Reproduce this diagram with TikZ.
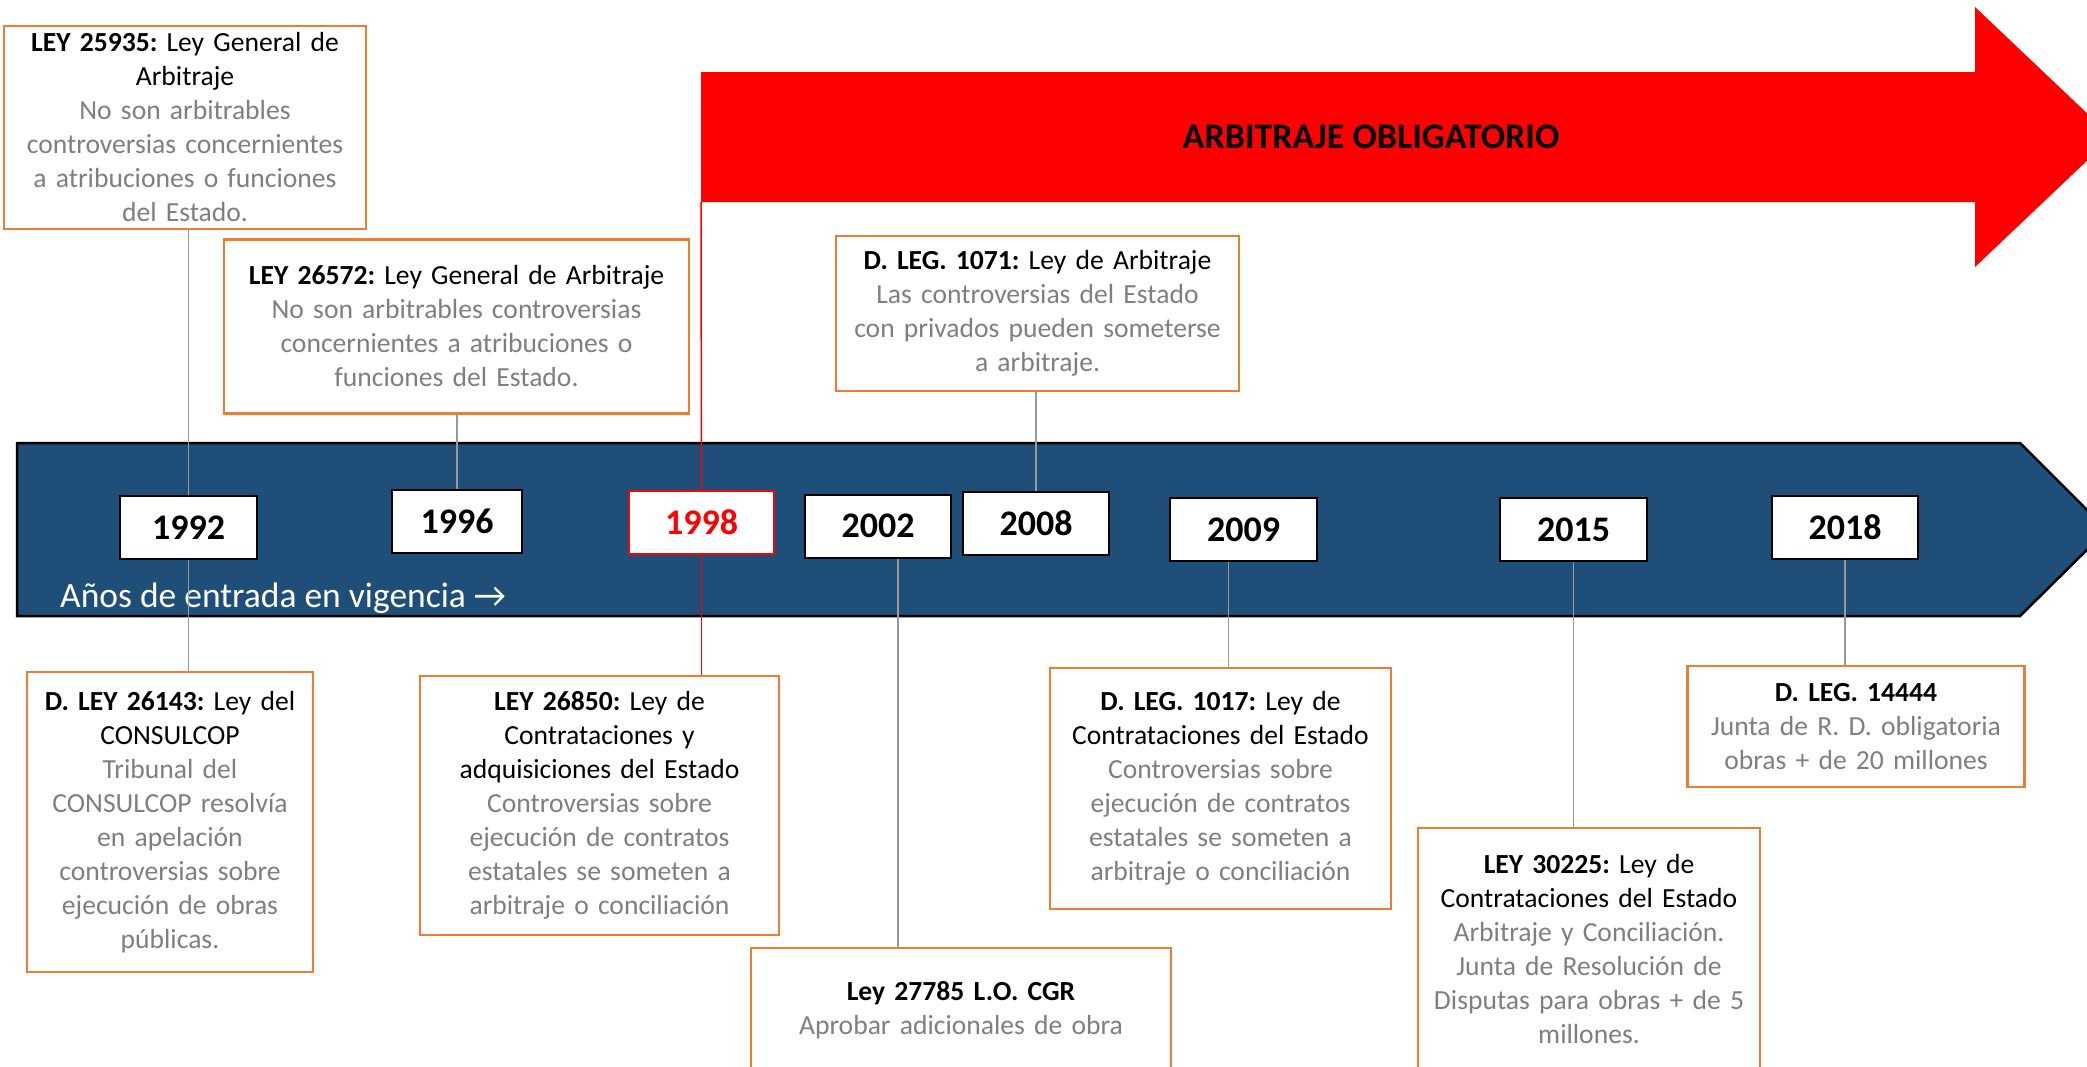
\documentclass[tikz,border=0pt]{standalone}
\usepackage{fontspec}
\setmainfont{Carlito}
\frenchspacing
\definecolor{bandblue}{HTML}{1F4E79}
\definecolor{boxorange}{HTML}{ED7D31}
\definecolor{notegray}{HTML}{7F7F7F}
\definecolor{linkgray}{HTML}{999999}
\newcommand{\lawnote}[1]{\textcolor{notegray}{#1}}

\tikzset{
  yearbox/.style={draw=black,line width=2pt,fill=white,inner sep=0pt,minimum width=143pt,minimum height=63pt,font=\fontsize{36}{42}\selectfont\bfseries},
  lawbox/.style={draw=boxorange,line width=2.5pt,fill=white,inner sep=0pt,align=center,font=\fontsize{27.6}{34}\selectfont},
  linkline/.style={draw=linkgray,line width=1.5pt},
}

\begin{document}
\begin{tikzpicture}[x=1pt,y=-1pt]
\useasboundingbox (0,0) rectangle (2087,1066);
\clip (0,0) rectangle (2087,1066);

\fill[red] (701,72) -- (1975,72) -- (1975,7) -- (2112,137) -- (1975,267) -- (1975,202) -- (701,202) -- cycle;
\coordinate (obligfoot) at (701,202);
\node[font=\fontsize{36}{42}\selectfont\bfseries] (oblig) at (1371,137) {ARBITRAJE OBLIGATORIO};

\filldraw[fill=bandblue,draw=black,line width=2.5pt] (17,443) -- (2020,443) -- (2107,530) -- (2020,616) -- (17,616) -- cycle;

\node[yearbox,minimum width=137pt] (y1992) at (188.5,527.5) {1992};
\node[yearbox,minimum width=130pt] (y1996) at (457,521.5) {1996};
\node[yearbox,draw=red,text=red,minimum width=145pt] (y1998) at (701.5,522) {1998};
\node[yearbox,minimum width=146pt] (y2002) at (878,526) {2002};
\node[yearbox,minimum width=146pt] (y2008) at (1036,523) {2008};
\node[yearbox,minimum width=147pt] (y2009) at (1243.5,529.5) {2009};
\node[yearbox,minimum width=147pt] (y2015) at (1573.5,529.5) {2015};
\node[yearbox,minimum width=146pt] (y2018) at (1845,527.5) {2018};

\node[text=white,font=\fontsize{35.5}{40}\selectfont,anchor=base west,inner sep=0pt] (vigencia) at (60,607) {Años de entrada en vigencia →};

\node[lawbox,minimum width=362pt,minimum height=203pt,text width=356pt] (ley25935) at (185,127.5)
  {\textbf{LEY 25935:} Ley General de\\ Arbitraje\\ \lawnote{No son arbitrables\\ controversias concernientes\\ a atribuciones o funciones\\ del Estado.}};
\node[lawbox,minimum width=465pt,minimum height=174pt,text width=459pt] (ley26572) at (456.5,326.5)
  {\textbf{LEY 26572:} Ley General de Arbitraje\\ \lawnote{No son arbitrables controversias\\ concernientes a atribuciones o\\ funciones del Estado.}};
\node[lawbox,minimum width=403pt,minimum height=155pt,text width=397pt] (leg1071) at (1037.5,313.5)
  {\textbf{D. LEG. 1071:} Ley de Arbitraje\\ \lawnote{Las controversias del Estado\\ con privados pueden someterse\\ a arbitraje.}};
\node[lawbox,minimum width=286pt,minimum height=300pt,text width=280pt] (ley26143) at (170,822)
  {\textbf{D. LEY 26143:} Ley del\\ CONSULCOP\\ \lawnote{Tribunal del\\ CONSULCOP resolvía\\ en apelación\\ controversias sobre\\ ejecución de obras\\ públicas.}};
\node[lawbox,minimum width=359pt,minimum height=259pt,text width=353pt] (ley26850) at (599.5,805.5)
  {\textbf{LEY 26850:} Ley de\\ Contrataciones y\\ adquisiciones del Estado\\ \lawnote{Controversias sobre\\ ejecución de contratos\\ estatales se someten a\\ arbitraje o conciliación}};
\node[lawbox,minimum width=420pt,minimum height=124pt,text width=414pt] (ley27785) at (961,1010)
  {\textbf{Ley 27785 L.O. CGR}\\ \lawnote{Aprobar adicionales de obra}};
\node[lawbox,minimum width=341pt,minimum height=241pt,text width=335pt] (leg1017) at (1220.5,788.5)
  {\textbf{D. LEG. 1017:} Ley de\\ Contrataciones del Estado\\ \lawnote{Controversias sobre\\ ejecución de contratos\\ estatales se someten a\\ arbitraje o conciliación}};
\node[lawbox,minimum width=342pt,minimum height=242pt,text width=336pt] (ley30225) at (1589,949)
  {\textbf{LEY 30225:} Ley de\\ Contrataciones del Estado\\ \lawnote{Arbitraje y Conciliación.\\ Junta de Resolución de\\ Disputas para obras + de 5\\ millones.}};
\node[lawbox,minimum width=337pt,minimum height=121pt,text width=331pt] (leg14444) at (1856,726.5)
  {\textbf{D. LEG. 14444}\\ \lawnote{Junta de R. D. obligatoria\\ obras + de 20 millones}};

\draw[linkline] (ley25935.south -| y1992) -- (y1992.north);
\draw[linkline] (y1992.south) -- (y1992.south |- ley26143.north);
\draw[linkline] (ley26572.south -| y1996) -- (y1996.north);
\draw[red,line width=1.5pt] (obligfoot) -- (y1998.north);
\draw[red,line width=1.5pt] (y1998.south) -- (y1998.south |- ley26850.north);
\draw[linkline] ([xshift=20pt]y2002.south) -- ([xshift=20pt]y2002.south |- ley27785.north);
\draw[linkline] (leg1071.south -| y2008) -- (y2008.north);
\draw[linkline] ([xshift=-15pt]y2009.south) -- ([xshift=-15pt]y2009.south |- leg1017.north);
\draw[linkline] (y2015.south) -- (y2015.south |- ley30225.north);
\draw[linkline] (y2018.south) -- (y2018.south |- leg14444.north);

\end{tikzpicture}
\end{document}
